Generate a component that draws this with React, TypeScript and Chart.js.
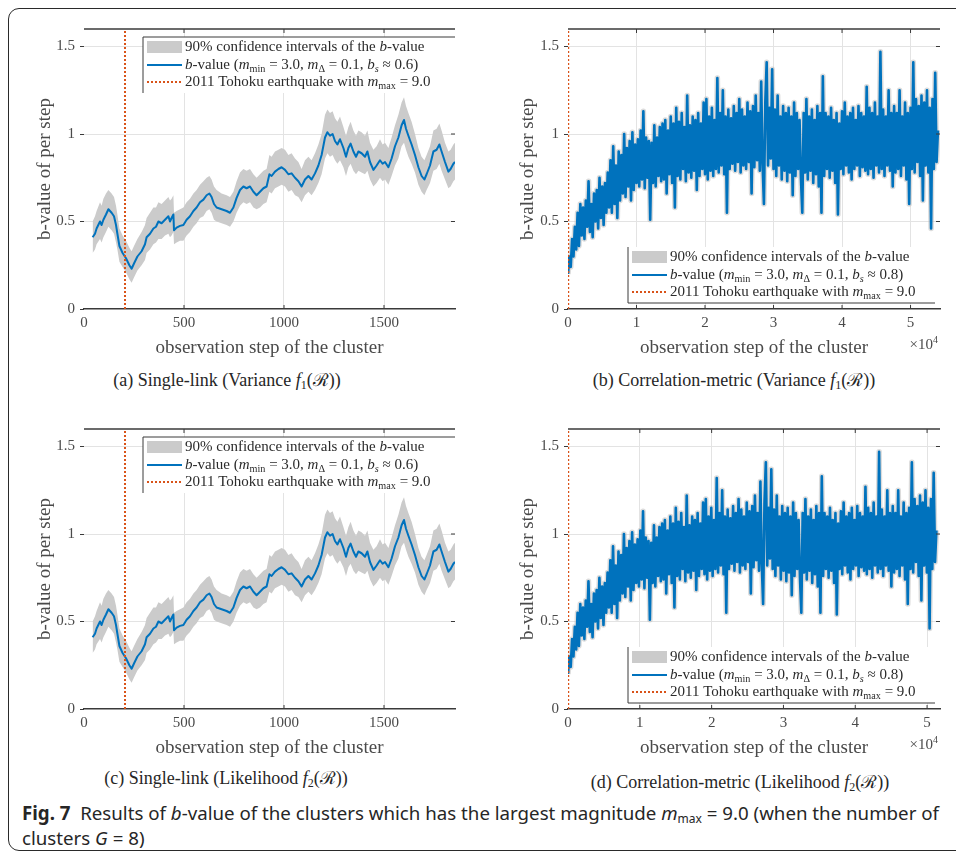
import React, { useEffect, useRef } from "react";
import { Chart, registerables } from "chart.js";

Chart.register(...registerables);

// ---------- Single-link clustering: b-value per observation step ----------
const singleLinkSteps = [
  43, 55, 63, 80, 88, 97, 110, 122, 138, 150, 160, 167, 177, 193, 210, 227, 238, 250, 267, 288,
  305, 313, 330, 347, 360, 372, 388, 405, 422, 430, 438, 447, 450, 463, 480, 497, 513, 530, 547, 563,
  580, 597, 613, 627, 638, 650, 663, 688, 713, 730, 747, 763, 780, 797, 813, 830, 847, 863, 880, 897,
  913, 927, 938, 955, 972, 988, 1005, 1022, 1038, 1055, 1072, 1088, 1105, 1122, 1138, 1155, 1172, 1188, 1205, 1217,
  1230, 1243, 1255, 1267, 1280, 1297, 1310, 1322, 1333, 1347, 1360, 1372, 1388, 1405, 1417, 1430, 1447, 1463, 1480, 1493,
  1505, 1522, 1538, 1555, 1572, 1588, 1600, 1610, 1622, 1638, 1655, 1672, 1688, 1702, 1713, 1730, 1747, 1763, 1777, 1788,
  1805, 1822, 1833, 1847, 1855,
];

const singleLinkB = [
  0.41, 0.43, 0.46, 0.5, 0.48, 0.51, 0.54, 0.57, 0.55, 0.53, 0.48, 0.43, 0.36, 0.32, 0.29, 0.25, 0.23, 0.26, 0.3, 0.33,
  0.37, 0.41, 0.43, 0.46, 0.47, 0.5, 0.49, 0.51, 0.53, 0.5, 0.52, 0.54, 0.45, 0.465, 0.475, 0.48, 0.51, 0.53, 0.56, 0.58,
  0.61, 0.625, 0.65, 0.66, 0.64, 0.6, 0.58, 0.57, 0.56, 0.55, 0.58, 0.635, 0.68, 0.7, 0.69, 0.7, 0.67, 0.65, 0.67, 0.69,
  0.7, 0.77, 0.76, 0.785, 0.8, 0.81, 0.795, 0.77, 0.775, 0.75, 0.73, 0.7, 0.74, 0.76, 0.74, 0.775, 0.82, 0.88, 0.98, 1.01,
  0.99, 1.0, 0.96, 0.94, 0.97, 0.92, 0.87, 0.92, 0.945, 0.9, 0.87, 0.9, 0.89, 0.87, 0.9, 0.84, 0.795, 0.82, 0.85, 0.83,
  0.84, 0.81, 0.86, 0.93, 0.98, 1.05, 1.08, 1.03, 0.99, 0.94, 0.88, 0.81, 0.76, 0.74, 0.77, 0.82, 0.9, 0.91, 0.94, 0.9,
  0.84, 0.785, 0.8, 0.83, 0.84,
];

const singleLinkCiUpper = [
  0.5, 0.53, 0.56, 0.61, 0.59, 0.63, 0.66, 0.68, 0.66, 0.64, 0.59, 0.54, 0.46, 0.42, 0.39, 0.35, 0.33, 0.36, 0.4, 0.44,
  0.48, 0.52, 0.55, 0.58, 0.58, 0.61, 0.6, 0.62, 0.64, 0.62, 0.63, 0.65, 0.55, 0.56, 0.57, 0.58, 0.61, 0.63, 0.66, 0.68,
  0.71, 0.73, 0.75, 0.76, 0.74, 0.7, 0.68, 0.66, 0.65, 0.64, 0.67, 0.73, 0.78, 0.8, 0.79, 0.8, 0.77, 0.75, 0.77, 0.79,
  0.8, 0.88, 0.87, 0.9, 0.91, 0.92, 0.91, 0.88, 0.89, 0.86, 0.84, 0.8, 0.85, 0.87, 0.85, 0.89, 0.94, 1.0, 1.11, 1.14,
  1.12, 1.13, 1.09, 1.07, 1.1, 1.04, 0.99, 1.04, 1.07, 1.02, 0.99, 1.02, 1.01, 0.99, 1.02, 0.95, 0.91, 0.93, 0.97, 0.94,
  0.95, 0.92, 0.98, 1.05, 1.11, 1.18, 1.21, 1.16, 1.12, 1.07, 1.0, 0.92, 0.87, 0.85, 0.88, 0.93, 1.02, 1.03, 1.06, 1.02,
  0.95, 0.9, 0.91, 0.94, 0.95,
];

const singleLinkCiLower = [
  0.32, 0.34, 0.37, 0.4, 0.38, 0.41, 0.44, 0.47, 0.45, 0.43, 0.38, 0.34, 0.27, 0.24, 0.21, 0.17, 0.15, 0.18, 0.22, 0.25,
  0.28, 0.32, 0.34, 0.37, 0.38, 0.4, 0.4, 0.42, 0.43, 0.41, 0.42, 0.44, 0.37, 0.38, 0.39, 0.39, 0.42, 0.44, 0.47, 0.49,
  0.52, 0.53, 0.56, 0.57, 0.55, 0.51, 0.5, 0.49, 0.48, 0.47, 0.5, 0.55, 0.59, 0.61, 0.6, 0.61, 0.58, 0.57, 0.58, 0.6,
  0.61, 0.67, 0.66, 0.69, 0.7, 0.71, 0.7, 0.67, 0.68, 0.65, 0.64, 0.61, 0.65, 0.67, 0.65, 0.68, 0.72, 0.77, 0.86, 0.89,
  0.87, 0.88, 0.85, 0.83, 0.85, 0.81, 0.76, 0.81, 0.83, 0.79, 0.77, 0.79, 0.78, 0.77, 0.79, 0.74, 0.7, 0.72, 0.75, 0.73,
  0.74, 0.71, 0.76, 0.82, 0.86, 0.93, 0.95, 0.91, 0.87, 0.83, 0.78, 0.71, 0.67, 0.65, 0.68, 0.72, 0.79, 0.8, 0.83, 0.79,
  0.74, 0.69, 0.7, 0.73, 0.74,
];

const singleLinkTohokuStep = 205;
const singleLinkXTicks = [0, 500, 1000, 1500];

// ---------- Correlation-metric clustering: b-value per observation step ----------
// One stored sample every couple of hundred steps (spacing differs per criterion).
const corrB = [
  0.2, 0.3, 0.24, 0.4, 0.3, 0.47, 0.34, 0.55, 0.36, 0.6,
  0.42, 0.58, 0.4, 0.62, 0.47, 0.73, 0.44, 0.6, 0.41, 0.66,
  0.5, 0.68, 0.46, 0.75, 0.52, 0.7, 0.48, 0.72, 0.55, 0.78,
  0.58, 0.85, 0.55, 0.93, 0.6, 0.82, 0.52, 0.9, 0.62, 0.88,
  0.66, 1.0, 0.64, 0.92, 0.7, 0.96, 0.62, 1.01, 0.68, 0.94,
  0.72, 0.97, 0.7, 1.02, 0.74, 1.13, 0.69, 0.98, 0.75, 0.96,
  0.51, 0.95, 0.72, 1.05, 0.7, 0.98, 0.76, 1.04, 0.73, 1.06,
  0.74, 1.08, 0.66, 1.02, 0.77, 1.1, 0.72, 1.06, 0.58, 1.15,
  0.76, 1.07, 0.74, 1.12, 0.8, 1.04, 0.73, 1.22, 0.78, 1.05,
  0.75, 1.1, 0.79, 1.08, 0.68, 1.12, 0.76, 1.06, 0.8, 1.18,
  0.77, 1.2, 0.74, 1.1, 0.79, 1.15, 0.76, 1.08, 0.8, 1.32,
  0.78, 1.12, 0.82, 1.25, 0.77, 1.1, 0.55, 1.14, 0.8, 1.09,
  0.83, 1.16, 0.79, 1.12, 0.84, 1.2, 0.78, 1.14, 0.82, 1.1,
  0.8, 1.18, 0.84, 1.13, 0.66, 1.16, 0.81, 1.22, 0.85, 1.12,
  0.79, 1.3, 0.83, 0.6, 1.18, 1.41, 0.82, 1.15, 0.86, 1.37,
  0.8, 1.14, 0.76, 1.22, 0.82, 1.1, 0.74, 1.16, 0.79, 1.12,
  0.73, 1.15, 0.78, 1.1, 0.65, 1.18, 0.76, 1.12, 0.8, 1.08,
  0.75, 0.55, 1.12, 0.78, 1.2, 0.74, 1.1, 0.79, 1.14, 0.72,
  1.08, 0.77, 1.16, 0.7, 1.12, 0.55, 1.33, 0.76, 1.12, 0.8,
  1.1, 0.75, 1.15, 0.79, 1.08, 0.72, 1.12, 0.54, 1.06, 0.8,
  1.13, 0.77, 1.18, 0.82, 1.1, 0.78, 1.12, 0.74, 1.15, 0.8,
  1.08, 0.82, 1.16, 0.76, 1.12, 0.81, 1.1, 0.79, 1.27, 0.77,
  1.15, 0.8, 1.12, 0.75, 1.18, 0.82, 1.1, 0.78, 1.47, 0.8,
  1.14, 0.76, 1.1, 0.82, 1.25, 0.79, 1.12, 0.7, 1.16, 0.78,
  1.12, 0.8, 1.25, 0.76, 1.1, 0.82, 1.18, 0.74, 1.12, 0.6,
  1.15, 0.8, 1.41, 0.78, 1.2, 0.84, 1.16, 0.76, 1.22, 0.62,
  1.18, 0.82, 1.25, 0.78, 1.15, 0.46, 1.2, 0.8, 1.35, 0.84, 1.02,
];

const corrSpacingVariance = 200;
const corrSpacingLikelihood = 190;
const corrTohokuStep = 30;
const corrXTicks = [0, 10000, 20000, 30000, 40000, 50000];

const yMax = 1.6;
const yTicks = [0, 0.5, 1, 1.5];

// ---------- styling ----------
const SERIF = '"Liberation Serif", "DejaVu Serif", serif';
const SANS = '"Noto Sans", "Liberation Sans", sans-serif';
const TEXT = "#4a4a4a";
const GRID = "#e3e3e3";
const AXIS = "#3a3a3a";
const BLUE = "#0072BD";
const ORANGE = "#D95319";
const BAND = "#cbcbcb";

type Seg = { t: string; italic?: boolean; sub?: boolean };

type PanelSpec = {
  key: string;
  kind: "single" | "corr";
  left: number;
  top: number;
  width: number;
  height: number;
  yAxisWidth: number;
  yTitlePad: number;
  rightPad: number;
  xMax: number;
  xTicks: number[];
  xDiv: number;
  spacing: number;
  legendAt: "top" | "bottom";
  bs: string;
};

const panels: PanelSpec[] = [
  { key: "a", kind: "single", left: 30, top: 15, width: 440, height: 350, yAxisWidth: 54, yTitlePad: 4, rightPad: 15, xMax: 1855, xTicks: singleLinkXTicks, xDiv: 1, spacing: 0, legendAt: "top", bs: "0.6" },
  { key: "b", kind: "corr", left: 510, top: 15, width: 446, height: 350, yAxisWidth: 58, yTitlePad: 7, rightPad: 16, xMax: 54300, xTicks: corrXTicks, xDiv: 10000, spacing: corrSpacingVariance, legendAt: "bottom", bs: "0.8" },
  { key: "c", kind: "single", left: 30, top: 415, width: 440, height: 350, yAxisWidth: 54, yTitlePad: 4, rightPad: 15, xMax: 1855, xTicks: singleLinkXTicks, xDiv: 1, spacing: 0, legendAt: "top", bs: "0.6" },
  { key: "d", kind: "corr", left: 510, top: 415, width: 446, height: 350, yAxisWidth: 58, yTitlePad: 7, rightPad: 16, xMax: 51800, xTicks: corrXTicks, xDiv: 10000, spacing: corrSpacingLikelihood, legendAt: "bottom", bs: "0.8" },
];

function drawRich(ctx: CanvasRenderingContext2D, segs: Seg[], x: number, y: number, size: number) {
  let cx = x;
  for (const s of segs) {
    const fs = s.sub ? size * 0.68 : size;
    ctx.font = `${s.italic ? "italic " : ""}${fs}px ${SERIF}`;
    ctx.fillText(s.t, cx, s.sub ? y + size * 0.28 : y);
    cx += ctx.measureText(s.t).width;
  }
}

function legendRows(bs: string): Seg[][] {
  return [
    [{ t: "90% confidence intervals of the " }, { t: "b", italic: true }, { t: "-value" }],
    [
      { t: "b", italic: true }, { t: "-value (" }, { t: "m", italic: true }, { t: "min", sub: true },
      { t: " = 3.0, " }, { t: "m", italic: true }, { t: "Δ", sub: true }, { t: " = 0.1, " },
      { t: "b", italic: true }, { t: "s", sub: true, italic: true }, { t: ` ≈ ${bs})` },
    ],
    [{ t: "2011 Tohoku earthquake with " }, { t: "m", italic: true }, { t: "max", sub: true }, { t: " = 9.0" }],
  ];
}

function makePlugin(spec: PanelSpec) {
  return {
    id: "frameAndLegend",
    afterDatasetsDraw(chart: any) {
      const { ctx, chartArea: a, scales } = chart;
      ctx.save();
      // top edge of the axes box
      ctx.strokeStyle = AXIS;
      ctx.lineWidth = 1.5;
      ctx.beginPath();
      ctx.moveTo(a.left, a.top);
      ctx.lineTo(a.right, a.top);
      ctx.stroke();
      // inward tick marks
      ctx.lineWidth = 1;
      ctx.beginPath();
      for (const t of scales.x.ticks) {
        if (t.value === 0) continue;
        const px = scales.x.getPixelForValue(t.value);
        ctx.moveTo(px, a.bottom);
        ctx.lineTo(px, a.bottom - 4);
        ctx.moveTo(px, a.top);
        ctx.lineTo(px, a.top + 4);
      }
      for (const t of scales.y.ticks) {
        if (t.value === 0) continue;
        const py = scales.y.getPixelForValue(t.value);
        ctx.moveTo(a.right, py);
        ctx.lineTo(a.right - 4, py);
      }
      ctx.stroke();
      ctx.restore();
    },
    afterDraw(chart: any) {
      const { ctx, chartArea: a } = chart;
      ctx.save();
      const w = 312;
      const h = 56;
      const lx = a.right - w;
      const ly = spec.legendAt === "top" ? a.top + 8 : a.bottom - 6 - h;
      ctx.fillStyle = "#ffffff";
      ctx.fillRect(lx, ly, w, h);
      ctx.strokeStyle = AXIS;
      ctx.lineWidth = 1;
      ctx.beginPath();
      if (spec.legendAt === "top") {
        ctx.moveTo(a.right, ly);
        ctx.lineTo(lx, ly);
        ctx.lineTo(lx, ly + h);
      } else {
        ctx.moveTo(lx, ly);
        ctx.lineTo(lx, ly + h);
        ctx.lineTo(a.right - 5, ly + h);
      }
      ctx.stroke();

      const rows = [ly + 10, ly + 28, ly + 45];
      // samples
      ctx.fillStyle = BAND;
      ctx.fillRect(lx + 4, rows[0] - 6, 35, 12);
      ctx.strokeStyle = BLUE;
      ctx.lineWidth = 2;
      ctx.beginPath();
      ctx.moveTo(lx + 4, rows[1]);
      ctx.lineTo(lx + 39, rows[1]);
      ctx.stroke();
      ctx.strokeStyle = ORANGE;
      ctx.setLineDash([2, 2]);
      ctx.beginPath();
      ctx.moveTo(lx + 4, rows[2]);
      ctx.lineTo(lx + 39, rows[2]);
      ctx.stroke();
      ctx.setLineDash([]);

      ctx.fillStyle = "#2a2a2a";
      ctx.textBaseline = "middle";
      ctx.textAlign = "left";
      legendRows(spec.bs).forEach((segs, i) => drawRich(ctx, segs, lx + 42, rows[i], 15));

      if (spec.xDiv !== 1) {
        ctx.fillStyle = TEXT;
        const base = "×10";
        ctx.font = `10px ${SERIF}`;
        const supW = ctx.measureText("4").width;
        ctx.font = `15px ${SERIF}`;
        const baseW = ctx.measureText(base).width;
        const x0 = a.right - 2 - supW - baseW;
        const y0 = a.bottom + 36;
        ctx.fillText(base, x0, y0);
        ctx.font = `10px ${SERIF}`;
        ctx.fillText("4", x0 + baseW, y0 - 5);
      }
      ctx.restore();
    },
  };
}

function buildConfig(spec: PanelSpec): any {
  const datasets: any[] = [];
  if (spec.kind === "single") {
    datasets.push({
      data: singleLinkSteps.map((s, i) => ({ x: s, y: singleLinkCiUpper[i] })),
      borderWidth: 0, pointRadius: 0, fill: "+1", backgroundColor: BAND, borderColor: BAND, order: 3,
    });
    datasets.push({
      data: singleLinkSteps.map((s, i) => ({ x: s, y: singleLinkCiLower[i] })),
      borderWidth: 0, pointRadius: 0, fill: false, borderColor: BAND, order: 3,
    });
    datasets.push({
      data: singleLinkSteps.map((s, i) => ({ x: s, y: singleLinkB[i] })),
      borderColor: BLUE, borderWidth: 2, pointRadius: 0, fill: false, order: 1, borderJoinStyle: "round",
    });
  } else {
    const pts = corrB.map((v, i) => ({ x: i * spec.spacing, y: v }));
    datasets.push({
      data: pts, borderColor: "rgba(185,185,185,0.5)", borderWidth: 5.5, pointRadius: 0, fill: false, order: 3,
      borderJoinStyle: "round",
    });
    datasets.push({
      data: pts, borderColor: BLUE, borderWidth: 2.6, pointRadius: 0, fill: false, order: 1, borderJoinStyle: "round",
    });
  }
  const quakeStep = spec.kind === "single" ? singleLinkTohokuStep : corrTohokuStep;
  datasets.push({
    data: [{ x: quakeStep, y: 0 }, { x: quakeStep, y: yMax }],
    borderColor: ORANGE, borderWidth: 2, borderDash: [2, 2], pointRadius: 0, fill: false, order: 0,
  });

  const gridColor = (c: any) => (c.tick && c.tick.value === 0 ? "rgba(0,0,0,0)" : GRID);

  return {
    type: "line",
    data: { datasets },
    options: {
      responsive: false,
      animation: false,
      events: [],
      layout: { padding: { top: 10, right: spec.rightPad, left: 0, bottom: 0 } },
      plugins: { legend: { display: false }, tooltip: { enabled: false } },
      scales: {
        x: {
          type: "linear",
          min: 0,
          max: spec.xMax,
          afterFit: (s: any) => { s.height = 56; },
          afterBuildTicks: (s: any) => { s.ticks = spec.xTicks.map((v) => ({ value: v })); },
          ticks: {
            autoSkip: false, maxRotation: 0, padding: 5,
            color: TEXT, font: { family: SERIF, size: 15 },
            callback: (v: any) => String(Number(v) / spec.xDiv),
          },
          grid: { color: gridColor, drawTicks: false, lineWidth: 1 },
          border: { display: true, color: AXIS, width: 1.5 },
          title: {
            display: true, text: "observation step of the cluster", color: TEXT,
            font: { family: SERIF, size: 19 }, padding: { top: 0, bottom: 6 },
          },
        },
        y: {
          min: 0,
          max: yMax,
          afterFit: (s: any) => { s.width = spec.yAxisWidth; },
          afterBuildTicks: (s: any) => { s.ticks = yTicks.map((v) => ({ value: v })); },
          ticks: { autoSkip: false, padding: 5, color: TEXT, font: { family: SERIF, size: 15 }, callback: (v: any) => String(v) },
          grid: { color: gridColor, tickColor: AXIS, tickLength: 4, drawTicks: true, lineWidth: 1 },
          border: { display: false },
          title: {
            display: true, text: "b-value of per step", color: TEXT,
            font: { family: SERIF, size: 19 }, padding: { top: spec.yTitlePad, bottom: 0 },
          },
        },
      },
    },
    plugins: [makePlugin(spec)],
  };
}

function Panel({ spec }: { spec: PanelSpec }) {
  const ref = useRef<HTMLCanvasElement>(null);
  useEffect(() => {
    if (!ref.current) return;
    const chart = new Chart(ref.current, buildConfig(spec));
    return () => chart.destroy();
  }, [spec]);
  return (
    <canvas
      ref={ref}
      width={spec.width}
      height={spec.height}
      style={{ position: "absolute", left: spec.left, top: spec.top, width: spec.width, height: spec.height }}
    />
  );
}

const subCaptions = [
  { cx: 227, cy: 380, tag: "(a) Single-link (Variance ", f: "1" },
  { cx: 734, cy: 380, tag: "(b) Correlation-metric (Variance ", f: "1" },
  { cx: 226, cy: 778, tag: "(c) Single-link (Likelihood ", f: "2" },
  { cx: 740, cy: 782, tag: "(d) Correlation-metric (Likelihood ", f: "2" },
];

const subStyle: React.CSSProperties = { fontSize: 12, verticalAlign: "-3px", lineHeight: 0 };

export default function App() {
  return (
    <div style={{ position: "absolute", left: 0, top: 0, width: 956, height: 858, overflow: "hidden", background: "#fff" }}>
      <div
        style={{
          position: "absolute", left: 8, top: 8, width: 980, height: 843,
          border: "1.5px solid #2a2a2a", borderRadius: 11, boxSizing: "border-box",
        }}
      />
      {panels.map((p) => (
        <Panel key={p.key} spec={p} />
      ))}
      {subCaptions.map((c, i) => (
        <div
          key={i}
          style={{
            position: "absolute", left: c.cx, top: c.cy - 11, transform: "translateX(-50%)",
            whiteSpace: "nowrap", fontFamily: SERIF, fontSize: 18, lineHeight: "22px", color: "#262626",
          }}
        >
          {c.tag}
          <i>f</i>
          <sub style={subStyle}>{c.f}</sub>(ℛ))
        </div>
      ))}
      <div
        style={{
          position: "absolute", left: 22, top: 800, whiteSpace: "nowrap",
          fontFamily: SANS, fontSize: 18.7, lineHeight: "25px", color: "#262626",
        }}
      >
        <b>Fig. 7</b>&nbsp; Results of <i>b</i>-value of the clusters which has the largest magnitude <i>m</i>
        <sub style={subStyle}>max</sub> = 9.0 (when the number of
        <br />
        clusters <i>G</i> = 8)
      </div>
    </div>
  );
}
